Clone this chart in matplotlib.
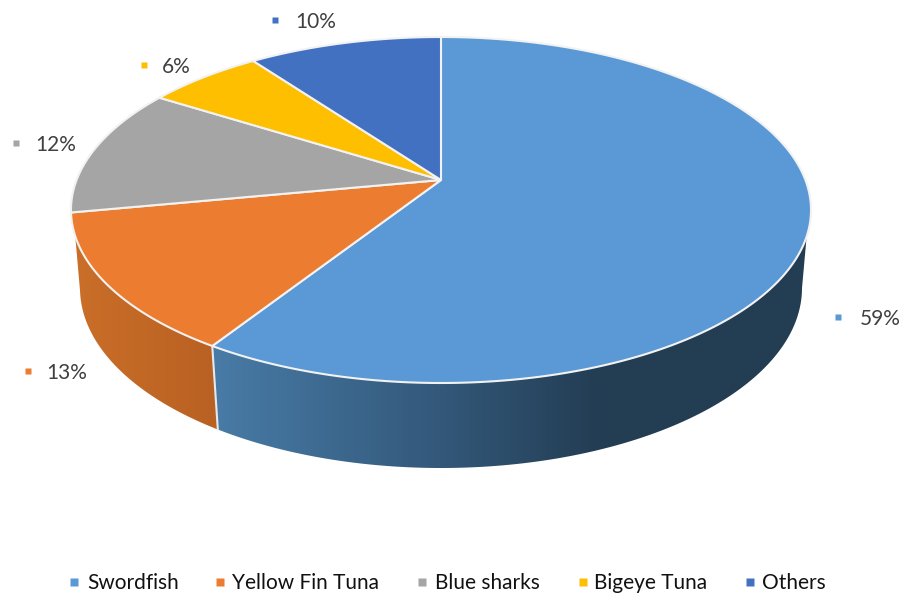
import numpy as np
import matplotlib
matplotlib.use("Agg")
import matplotlib.pyplot as plt
from matplotlib.colors import LinearSegmentedColormap
from matplotlib.patches import Polygon

# Catch composition by species
species = ["Swordfish", "Yellow Fin Tuna", "Blue sharks", "Bigeye Tuna", "Others"]
shares = [59, 13, 12, 6, 10]

colors = ["#5A99D5", "#EB7C30", "#A5A5A5", "#FDBF00", "#4371C2"]

# Pie geometry on a canvas measured in pixels
CX, CY = 441.0, 180.0
RX, RY, TILT = 364.4, 167.8, 0.1734
TOP_MID_Y, TOP_HALF_H, TOP_HALF_W = 210.0, 173.0, 370.0
BASE_MID_Y, BASE_HALF_H, BASE_HALF_W = 288.0, 180.0, 361.0
WALL_TOP_Y = 236.0

# Where each percentage label sits: marker x, text x, y
label_spots = [(838, 860, 319), (28, 46, 373), (16, 35, 145), (144, 162, 67), (275, 295, 22)]
# Legend layout: marker x and text x for each entry
legend_marker_x = [74, 220, 422, 583, 750]
legend_text_x = [87, 232, 435, 594, 762]
LEGEND_Y = 583

plt.rcParams["font.family"] = ["Lato", "DejaVu Sans"]
fig = plt.figure(figsize=(9.02, 5.97), dpi=100)
ax = fig.add_axes([0, 0, 1, 1])
ax.set_xlim(0, 902)
ax.set_ylim(597, 0)
ax.axis("off")


def rim(frac):
    """Perspective position on the top rim, clockwise from twelve o'clock."""
    ang = 2 * np.pi * np.asarray(frac)
    u, v = np.sin(ang), np.cos(ang)
    w = 1 + TILT * v
    return CX + RX * u / w, CY - RY * v / w


def base(x, y):
    """Drop a top-rim point onto the bottom rim."""
    return (CX + (x - CX) * BASE_HALF_W / TOP_HALF_W,
            BASE_MID_Y + (y - TOP_MID_Y) * BASE_HALF_H / TOP_HALF_H)


def wall(start, stop, stops, z):
    """Shaded side of the pie between two fractions of the rim."""
    f = np.linspace(start, stop, 500)
    x, y = rim(f)
    tx, ty = x[y >= WALL_TOP_Y], y[y >= WALL_TOP_Y]
    keep = y >= TOP_MID_Y
    bx, by = base(x[keep], y[keep])
    outline = np.column_stack([np.r_[tx, bx[::-1]], np.r_[ty, by[::-1]]])
    patch = Polygon(outline, closed=True, facecolor="none", edgecolor="none", zorder=z)
    ax.add_patch(patch)
    cmap = LinearSegmentedColormap.from_list(
        "wall", [((p - stops[0][0]) / (stops[-1][0] - stops[0][0]), c) for p, c in stops])
    img = ax.imshow(np.linspace(0, 1, 256)[None, :], cmap=cmap, vmin=0, vmax=1, aspect="auto",
                    extent=(stops[0][0], stops[-1][0], 480, 220), zorder=z,
                    interpolation="bilinear")
    img.set_clip_path(patch)


edges = np.r_[0, np.cumsum(shares)] / sum(shares)

# Side walls: only the first two slices face the viewer
wall(edges[0], edges[1], [(190, "#4A7FAB"), (440, "#33587A"), (600, "#233D53"), (820, "#233D53")], 1)
wall(edges[1], edges[2], [(60, "#CC7029"), (240, "#B65F22")], 1)
ax.set_xlim(0, 902)
ax.set_ylim(597, 0)

# Pale seam on the wall between the two visible slices
sx, sy = rim(edges[1])
bx, by = base(sx, sy)
ax.plot([sx, bx], [sy, by], color="#E4E9EE", lw=1.5, zorder=2)

# Top faces of the slices
for i, col in enumerate(colors):
    x, y = rim(np.linspace(edges[i], edges[i + 1], 300))
    pts = np.column_stack([np.r_[CX, x], np.r_[CY, y]])
    ax.add_patch(Polygon(pts, closed=True, facecolor=col, edgecolor="#F2F2F2",
                         lw=1.5, joinstyle="round", zorder=3))

# Percentage labels, each with a small colour key
for share, col, (mx, tx, ly) in zip(shares, colors, label_spots):
    ax.plot([mx], [ly - 2], marker="s", ms=5, color=col, mec="none", ls="none", zorder=4)
    ax.text(tx, ly, f"{share}%", fontsize=15, color="#404040", va="center", ha="left", zorder=4)

# Legend along the bottom edge
for name, col, mx, tx in zip(species, colors, legend_marker_x, legend_text_x):
    ax.plot([mx], [LEGEND_Y - 1], marker="s", ms=5.5, color=col, mec="none", ls="none", zorder=4)
    ax.text(tx, LEGEND_Y, name, fontsize=15, color="#111111", va="center", ha="left", zorder=4)

fig.savefig("out.png", dpi=100, facecolor="white")
